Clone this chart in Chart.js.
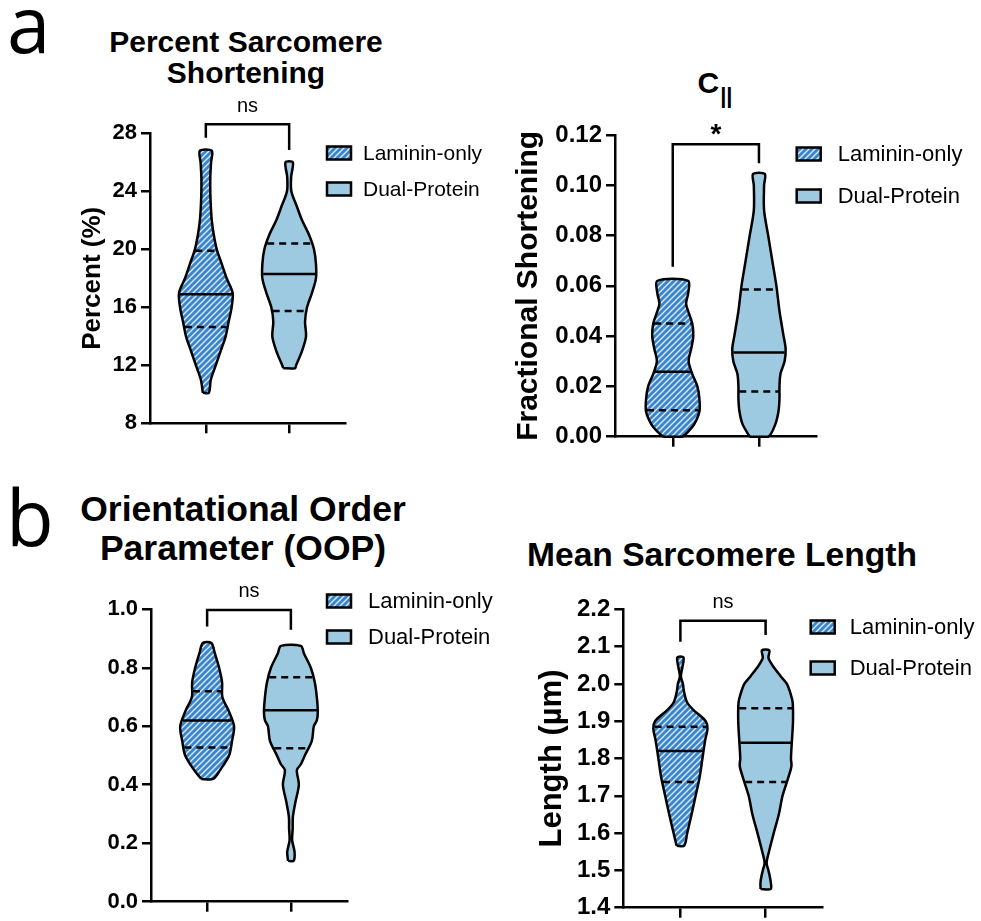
<!DOCTYPE html>
<html>
<head>
<meta charset="utf-8">
<script src="https://cdn.jsdelivr.net/npm/chart.js@4.4.0/dist/chart.umd.min.js"></script>
<style>
  body { margin: 0; background: #fff; }
  #page { position: relative; width: 981px; height: 921px; overflow: hidden; font-family: 'Liberation Sans', Arial, sans-serif; }
  canvas { position: absolute; }
  .lbl { position: absolute; font-family: 'Open Sans', sans-serif; font-size: 78px; line-height: 80px; color: #000; }
  .ttl { position: absolute; font-weight: bold; color: #000; text-align: center; white-space: nowrap; transform: translateX(-50%); }
  .sub { font-size: 22px; position: relative; top: 10px; margin-left: 1px; }
</style>
</head>
<body>
<div id="page">
  <div class="lbl" style="left:7px;top:-17px">a</div>
  <div class="lbl" style="left:6px;top:476px">b</div>
  <div class="ttl" style="left:246px;top:26px;font-size:30px;line-height:31px">Percent Sarcomere<br>Shortening</div>
  <div class="ttl" style="left:715px;top:66px;font-size:30px;line-height:34px">C<span class="sub">||</span></div>
  <div class="ttl" style="left:243px;top:490px;font-size:35.5px;line-height:39px">Orientational Order<br>Parameter (OOP)</div>
  <div class="ttl" style="left:722px;top:536px;font-size:33.6px;line-height:38px">Mean Sarcomere Length</div>

  <canvas id="pct" width="490" height="460" style="left:0;top:0"></canvas>
  <canvas id="cpar" width="491" height="480" style="left:490px;top:0"></canvas>
  <canvas id="oop" width="520" height="480" style="left:0;top:460px"></canvas>
  <canvas id="len" width="491" height="480" style="left:490px;top:460px"></canvas>
</div>

<script>
Chart.defaults.font.family = "'Liberation Sans', Arial, sans-serif";
Chart.defaults.color = '#000';

const groups = ['Laminin-only', 'Dual-Protein'];

// a) percent sarcomere shortening
const pctTicks = [8, 12, 16, 20, 24, 28];
const pctLamLevels = [10.1, 11, 12, 13, 14, 15, 16, 17, 18, 19, 20, 21, 22, 23, 24, 25, 26, 26.8];
const pctLamDensity = [3, 5, 10, 15, 20, 23, 26, 27, 21, 16, 11, 8, 6, 5, 4.5, 4.5, 5.3, 6];
const pctDualLevels = [11.8, 12, 13, 14, 15, 16, 17, 18, 19, 20, 21, 22, 23, 24, 25, 26];
const pctDualDensity = [6, 7, 13, 17, 16, 18, 23, 27, 27, 25, 20, 13, 7.5, 2.2, 2, 3.7];
const pctLamQuart = [14.65, 16.9, 19.9];   // q1, median, q3
const pctDualQuart = [15.75, 18.3, 20.4];
const pctBracket = [27.7, 28.62, 26.85];   // left leg end, bar, right leg end

// a) C|| fractional shortening
const cparTicks = [0, 0.02, 0.04, 0.06, 0.08, 0.10, 0.12];
const cparLamLevels = [0, 0.002, 0.005, 0.01, 0.015, 0.02, 0.025, 0.03, 0.035, 0.04, 0.045, 0.05, 0.053, 0.057, 0.062];
const cparLamDensity = [9, 15, 21, 26, 26, 24, 19, 15.5, 18, 20, 19, 15, 13, 15, 15];
const cparDualLevels = [0, 0.005, 0.01, 0.015, 0.02, 0.025, 0.03, 0.035, 0.04, 0.05, 0.06, 0.07, 0.08, 0.09, 0.1, 0.1045];
const cparDualDensity = [9, 16, 19, 20, 20, 21, 25, 26, 24, 20, 17, 13, 9, 5, 5, 5.7];
const cparLamQuart = [0.0105, 0.0258, 0.045];
const cparDualQuart = [0.018, 0.0335, 0.0585];
const cparBracket = [0.0676, 0.1163, 0.1088];

// b) orientational order parameter
const oopTicks = [0, 0.2, 0.4, 0.6, 0.8, 1.0];
const oopLamLevels = [0.42, 0.45, 0.5, 0.55, 0.6, 0.65, 0.7, 0.75, 0.8, 0.85, 0.885];
const oopLamDensity = [6, 13, 22, 25, 27, 22, 15.3, 15, 12, 7.7, 4.3];
const oopDualLevels = [0.14, 0.17, 0.21, 0.25, 0.29, 0.34, 0.4, 0.45, 0.47, 0.5, 0.55, 0.6, 0.62, 0.65, 0.7, 0.75, 0.8, 0.85, 0.875];
const oopDualDensity = [2.8, 3.7, 1.3, 1.8, 2, 4.5, 8, 6, 10, 14, 21, 23, 26, 27, 26, 24, 20, 13, 10];
const oopLamQuart = [0.527, 0.62, 0.72];
const oopDualQuart = [0.525, 0.655, 0.768];
const oopBracket = [0.941, 0.998, 0.93];

// b) mean sarcomere length (um)
const lenTicks = [1.4, 1.5, 1.6, 1.7, 1.8, 1.9, 2.0, 2.1, 2.2];
const lenLamLevels = [1.566, 1.6, 1.65, 1.7, 1.75, 1.8, 1.85, 1.88, 1.9, 1.93, 1.95, 1.98, 2.0, 2.02, 2.045, 2.071];
const lenLamDensity = [3.7, 6.7, 11, 15, 19, 21.7, 24.5, 26.7, 25, 13, 6.7, 3.5, 2.5, 0.5, 2, 3];
const lenDualLevels = [1.45, 1.47, 1.5, 1.52, 1.55, 1.6, 1.65, 1.7, 1.75, 1.78, 1.8, 1.85, 1.9, 1.95, 1.97, 2.0, 2.02, 2.05, 2.07, 2.09];
const lenDualDensity = [5, 5, 2.8, 1, 3.3, 8, 13, 16.7, 22.5, 25.5, 25, 26, 27, 26.7, 25, 21, 15, 6.7, 2.8, 3.7];
const lenLamQuart = [1.737, 1.82, 1.885];
const lenDualQuart = [1.737, 1.842, 1.935];
const lenBracket = [2.113, 2.169, 2.131];

const DENS = 1 / 84;   // density units -> category width
const dualFill = '#9ecae1';
const LW = 2.5;

// diagonal hatch for the laminin-only group
const hatchCanvas = document.createElement('canvas');
hatchCanvas.width = 6;
hatchCanvas.height = 6;
const hc = hatchCanvas.getContext('2d');
hc.fillStyle = '#3a86c8';
hc.fillRect(0, 0, 6, 6);
hc.strokeStyle = 'rgba(255,255,255,0.85)';
hc.lineWidth = 1.3;
hc.beginPath();
hc.moveTo(-1, 7); hc.lineTo(7, -1);
hc.moveTo(-4, 4); hc.lineTo(4, -4);
hc.moveTo(2, 10); hc.lineTo(10, 2);
hc.stroke();
const lamFill = hc.createPattern(hatchCanvas, 'repeat');
const fills = [lamFill, dualFill];

function outline(pos, levels, dens) {
  const left = levels.map((y, i) => ({ x: pos - dens[i] * DENS, y: y }));
  const right = levels.map((y, i) => ({ x: pos + dens[i] * DENS, y: y })).reverse();
  const pts = left.concat(right);
  pts.push(pts[0]);
  return pts;
}

function widthAt(levels, dens, v) {
  for (let i = 1; i < levels.length; i++) {
    if (v <= levels[i]) {
      const t = (v - levels[i - 1]) / (levels[i] - levels[i - 1]);
      return (dens[i - 1] + t * (dens[i] - dens[i - 1])) * DENS;
    }
  }
  return dens[dens.length - 1] * DENS;
}

function violinSets(pos, levels, dens, quart, fill) {
  const sets = [{
    data: outline(pos, levels, dens),
    backgroundColor: fill,
    borderColor: '#000',
    borderWidth: LW,
    borderJoinStyle: 'round',
    fill: 'shape',
    tension: 0.3,
    pointRadius: 0,
    clip: false,
    order: 2
  }];
  quart.forEach((v, i) => {
    const w = widthAt(levels, dens, v) - 0.01;
    sets.push({
      data: [{ x: pos - w, y: v }, { x: pos + w, y: v }],
      borderColor: '#000',
      borderWidth: LW,
      borderDash: i === 1 ? [] : [7, 5],
      pointRadius: 0,
      fill: false,
      clip: false,
      order: 1
    });
  });
  return sets;
}

const groupLegend = {
  id: 'groupLegend',
  afterDraw(chart, args, opts) {
    const ctx = chart.ctx;
    ctx.save();
    groups.forEach((name, i) => {
      const y = opts.y + i * opts.gap;
      ctx.fillStyle = fills[i];
      ctx.fillRect(opts.x, y - 6.5, 24, 13);
      ctx.lineWidth = LW;
      ctx.strokeStyle = '#000';
      ctx.strokeRect(opts.x, y - 6.5, 24, 13);
      ctx.fillStyle = '#000';
      ctx.font = opts.size + "px 'Liberation Sans', Arial, sans-serif";
      ctx.textBaseline = 'middle';
      ctx.textAlign = 'left';
      ctx.fillText(name, opts.x + opts.dx, y + 1);
    });
    ctx.restore();
  }
};

const sigLabel = {
  id: 'sigLabel',
  afterDatasetsDraw(chart, args, opts) {
    const ctx = chart.ctx;
    const xs = chart.scales.x, ys = chart.scales.y;
    ctx.save();
    ctx.fillStyle = '#000';
    ctx.font = opts.font;
    ctx.textAlign = 'center';
    ctx.textBaseline = 'alphabetic';
    ctx.fillText(opts.text, xs.getPixelForValue(1.5), ys.getPixelForValue(opts.at) - opts.gap);
    ctx.restore();
  }
};

function violinChart(id, cfg) {
  const datasets = []
    .concat(violinSets(1, cfg.lamLevels, cfg.lamDensity, cfg.lamQuart, lamFill))
    .concat(violinSets(2, cfg.dualLevels, cfg.dualDensity, cfg.dualQuart, dualFill));
  datasets.push({
    data: [
      { x: 1, y: cfg.bracket[0] }, { x: 1, y: cfg.bracket[1] },
      { x: 2, y: cfg.bracket[1] }, { x: 2, y: cfg.bracket[2] }
    ],
    borderColor: '#000',
    borderWidth: LW,
    pointRadius: 0,
    fill: false,
    clip: false,
    order: 0
  });

  new Chart(document.getElementById(id), {
    type: 'line',
    data: { datasets: datasets },
    options: {
      responsive: false,
      animation: false,
      layout: { padding: cfg.pad },
      plugins: {
        legend: { display: false },
        tooltip: { enabled: false },
        groupLegend: cfg.legend,
        sigLabel: { text: cfg.sig, at: cfg.bracket[1], gap: cfg.sigGap, font: cfg.sigFont }
      },
      scales: {
        x: {
          type: 'linear',
          min: 0.33,
          max: 2.67,
          afterBuildTicks: (s) => { s.ticks = [{ value: 1 }, { value: 2 }]; },
          ticks: { display: false },
          grid: { drawOnChartArea: false, color: '#000', lineWidth: LW, tickLength: 10 },
          border: { color: '#000', width: LW },
          afterFit: (s) => { s.height = 12; }
        },
        y: {
          type: 'linear',
          min: cfg.ticks[0],
          max: cfg.ticks[cfg.ticks.length - 1],
          afterBuildTicks: (s) => { s.ticks = cfg.ticks.map(v => ({ value: v })); },
          ticks: {
            callback: (v) => Number(v).toFixed(cfg.dec),
            font: { size: cfg.tickSize, weight: 'bold' },
            color: '#000',
            padding: 4
          },
          grid: { drawOnChartArea: false, color: '#000', lineWidth: LW, tickLength: 9 },
          border: { color: '#000', width: LW },
          title: {
            display: !!cfg.yTitle,
            text: cfg.yTitle || '',
            font: { size: cfg.yTitleSize, weight: 'bold' },
            color: '#000',
            padding: 0
          },
          afterFit: (s) => { s.width = cfg.yW; }
        }
      }
    },
    plugins: [groupLegend, sigLabel]
  });
}

violinChart('pct', {
  ticks: pctTicks, dec: 0, tickSize: 22,
  lamLevels: pctLamLevels, lamDensity: pctLamDensity, lamQuart: pctLamQuart,
  dualLevels: pctDualLevels, dualDensity: pctDualDensity, dualQuart: pctDualQuart,
  bracket: pctBracket, sig: 'ns', sigGap: 12, sigFont: "20px 'Liberation Sans', Arial",
  yTitle: 'Percent (%)', yTitleSize: 26, yW: 72.6,
  pad: { left: 77.4, top: 133.3, right: 145, bottom: 24.7 },
  legend: { x: 327, y: 153, gap: 36, size: 21, dx: 36 }
});

violinChart('cpar', {
  ticks: cparTicks, dec: 2, tickSize: 24,
  lamLevels: cparLamLevels, lamDensity: cparLamDensity, lamQuart: cparLamQuart,
  dualLevels: cparDualLevels, dualDensity: cparDualDensity, dualQuart: cparDualQuart,
  bracket: cparBracket, sig: '*', sigGap: 1, sigFont: "bold 28px 'Liberation Sans', Arial",
  yTitle: 'Fractional Shortening', yTitleSize: 30, yW: 104,
  pad: { left: 21, top: 135, right: 164.3, bottom: 31.3 },
  legend: { x: 306.7, y: 154, gap: 42, size: 22, dx: 41 }
});

violinChart('oop', {
  ticks: oopTicks, dec: 1, tickSize: 22,
  lamLevels: oopLamLevels, lamDensity: oopLamDensity, lamQuart: oopLamQuart,
  dualLevels: oopDualLevels, dualDensity: oopDualDensity, dualQuart: oopDualQuart,
  bracket: oopBracket, sig: 'ns', sigGap: 13, sigFont: "20px 'Liberation Sans', Arial",
  yTitle: '', yTitleSize: 24, yW: 70,
  pad: { left: 81, top: 149.3, right: 173, bottom: 26.3 },
  legend: { x: 327, y: 141, gap: 36, size: 22, dx: 41 }
});

violinChart('len', {
  ticks: lenTicks, dec: 1, tickSize: 24,
  lamLevels: lenLamLevels, lamDensity: lenLamDensity, lamQuart: lenLamQuart,
  dualLevels: lenDualLevels, dualDensity: lenDualDensity, dualQuart: lenDualQuart,
  bracket: lenBracket, sig: 'ns', sigGap: 13, sigFont: "20px 'Liberation Sans', Arial",
  yTitle: 'Length (\u00b5m)', yTitleSize: 31, yW: 89.9,
  pad: { left: 43.4, top: 149.3, right: 158.3, bottom: 20.3 },
  legend: { x: 320.7, y: 167, gap: 41, size: 22, dx: 39 }
});
</script>
</body>
</html>
